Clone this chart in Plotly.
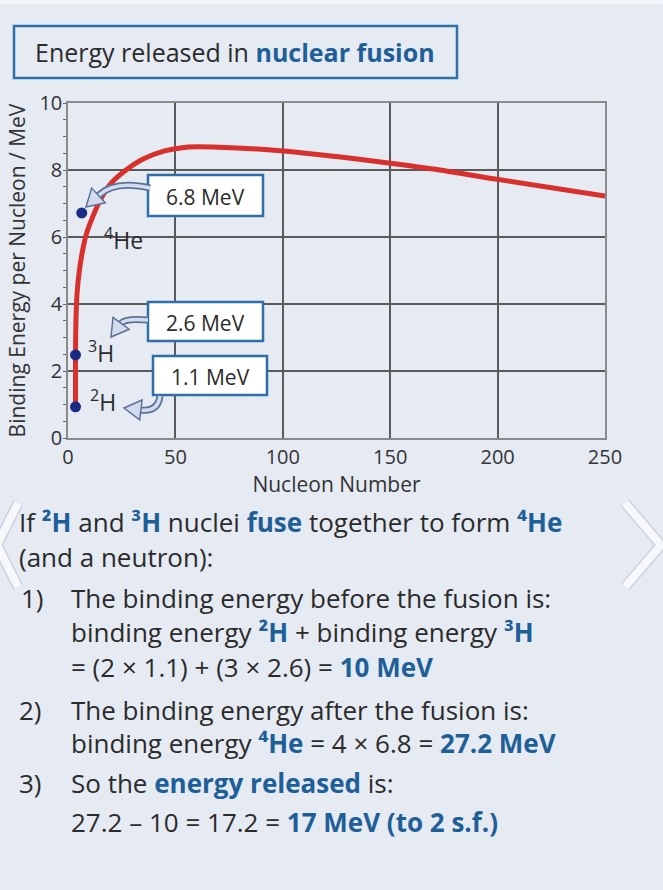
import plotly.graph_objects as go

# ---------------- data ----------------
nucleon_number = [3.5, 3.5, 3.7, 4.2, 5.3, 6.8, 8.6, 11.5, 15, 20, 27, 35, 45, 55, 70, 100, 125, 150, 173, 200, 250]
binding_energy = [0.93, 2.48, 3.5, 4.3, 5.0, 5.6, 6.1, 6.6, 7.1, 7.6, 8.0, 8.33, 8.57, 8.68, 8.68, 8.57, 8.4, 8.2, 8.0, 7.72, 7.22]

nuclide_A = [3.5, 3.5, 6.4]
nuclide_BE = [0.93, 2.48, 6.72]
nuclide_names = ["<sup>2</sup>H", "<sup>3</sup>H", "<sup>4</sup>He"]
nuclide_values = ["1.1 MeV", "2.6 MeV", "6.8 MeV"]

x_ticks = [0, 50, 100, 150, 200, 250]
y_ticks = [0, 2, 4, 6, 8, 10]

# ---------------- styling ----------------
W, H = 663, 890
L, R, T, B = 68, 605, 103, 438
BG = "#e5eaf3"
BLUE = "#1f5f98"
BOX = "#2f6ea6"
DARK = "#2b2b2b"
FONT = "Open Sans"


def PX(x):
    return (x - L) / (R - L)


def PY(y):
    return (B - y) / (B - T)


fig = go.Figure()

fig.add_trace(go.Scatter(
    x=nucleon_number, y=binding_energy, mode="lines",
    line=dict(color="#d8302c", width=5, shape="spline", smoothing=0.8),
    hoverinfo="skip", showlegend=False))

fig.add_trace(go.Scatter(
    x=nuclide_A, y=nuclide_BE, mode="markers",
    marker=dict(color="#1b2a85", size=11),
    hoverinfo="skip", showlegend=False))

shapes = []
annotations = []

# top light strip
shapes.append(dict(type="rect", xref="paper", yref="paper",
                   x0=PX(0), x1=PX(W), y0=PY(0), y1=PY(4),
                   fillcolor="#f3f5f9", line=dict(width=0), layer="below"))

# title box
shapes.append(dict(type="rect", xref="paper", yref="paper",
                   x0=PX(14), x1=PX(457), y0=PY(78), y1=PY(26),
                   line=dict(color=BOX, width=2.5), fillcolor="rgba(0,0,0,0)"))
annotations.append(dict(xref="paper", yref="paper", x=PX(235), y=PY(52),
                        xanchor="center", yanchor="middle", showarrow=False,
                        text=f"Energy released in <b><span style='color:{BLUE}'>nuclear fusion</span></b>",
                        font=dict(family=FONT, size=25, color=DARK)))

# callout boxes
boxes = [(153, 267, 356, 395), (148, 263, 302, 341), (148, 263, 175, 216)]
for (x0, x1, y0, y1), lab in zip(boxes, nuclide_values):
    shapes.append(dict(type="rect", xref="paper", yref="paper",
                       x0=PX(x0), x1=PX(x1), y0=PY(y1), y1=PY(y0),
                       fillcolor="white", line=dict(color=BOX, width=2.5), layer="above"))
    annotations.append(dict(xref="paper", yref="paper", x=PX((x0 + x1) / 2), y=PY((y0 + y1) / 2 + 1),
                            xanchor="center", yanchor="middle", showarrow=False,
                            text=lab, font=dict(family=FONT, size=21, color=DARK)))

# curved arrows (tail, control, tip) in pixels
arrows = [((160, 396), (158, 412), (124, 408)),
          ((148, 320), (125, 318), (111, 337)),
          ((150, 188), (115, 180), (86, 207))]
for (tx, ty), (cx, cy), (px_, py_) in arrows:
    dx, dy = px_ - cx, py_ - cy
    n = (dx * dx + dy * dy) ** 0.5
    ux, uy = dx / n, dy / n
    hl, hw = 17, 10
    bx, by = px_ - ux * hl, py_ - uy * hl
    nx, ny = -uy, ux
    path = f"M {PX(tx)} {PY(ty)} Q {PX(cx)} {PY(cy)} {PX(bx)} {PY(by)}"
    shapes.append(dict(type="path", xref="paper", yref="paper", path=path,
                       line=dict(color="#5d7298", width=7), layer="above"))
    shapes.append(dict(type="path", xref="paper", yref="paper", path=path,
                       line=dict(color="#d3dcee", width=3.5), layer="above"))
    head = (f"M {PX(px_)} {PY(py_)} L {PX(bx + nx * hw)} {PY(by + ny * hw)} "
            f"L {PX(bx - nx * hw)} {PY(by - ny * hw)} Z")
    shapes.append(dict(type="path", xref="paper", yref="paper", path=head,
                       fillcolor="#d3dcee", line=dict(color="#5d7298", width=1.5), layer="above"))

# nuclide labels
label_pos = [(88, 401), (86, 352), (102, 239)]
for (lx, ly), name in zip(label_pos, nuclide_names):
    annotations.append(dict(xref="paper", yref="paper", x=PX(lx), y=PY(ly),
                            xanchor="left", yanchor="middle", showarrow=False,
                            text=name, font=dict(family=FONT, size=23, color=DARK)))

# explanation text
def b(t):
    return f"<b><span style='color:{BLUE}'>{t}</span></b>"

lines = [
    (17, 522, f"If {b('²H')} and {b('³H')} nuclei {b('fuse')} together to form {b('⁴He')}"),
    (17, 557, "(and a neutron):"),
    (19, 598, "1)"),
    (69, 598, "The binding energy before the fusion is:"),
    (69, 632, f"binding energy {b('²H')} + binding energy {b('³H')}"),
    (69, 667, f"= (2 × 1.1) + (3 × 2.6) = {b('10 MeV')}"),
    (17, 710, "2)"),
    (69, 710, "The binding energy after the fusion is:"),
    (69, 743, f"binding energy {b('⁴He')} = 4 × 6.8 = {b('27.2 MeV')}"),
    (17, 783, "3)"),
    (69, 783, f"So the {b('energy released')} is:"),
    (69, 822, f"27.2 – 10 = 17.2 = {b('17 MeV (to 2 s.f.)')}"),
]
for lx, ly, t in lines:
    annotations.append(dict(xref="paper", yref="paper", x=PX(lx), y=PY(ly),
                            xanchor="left", yanchor="middle", showarrow=False,
                            text=t, font=dict(family=FONT, size=26, color=DARK)))

# carousel chevrons
for pts in [((18, 503), (-3, 545), (18, 587)), ((625, 503), (661, 545), (625, 587))]:
    path = "M " + " L ".join(f"{PX(x)} {PY(y)}" for x, y in pts)
    shapes.append(dict(type="path", xref="paper", yref="paper", path=path,
                       line=dict(color="#cdd2dd", width=11), layer="above"))
    shapes.append(dict(type="path", xref="paper", yref="paper", path=path,
                       line=dict(color="#f7f8fb", width=8), layer="above"))

fig.update_layout(
    width=W, height=H,
    margin=dict(l=L, r=W - R, t=T, b=H - B, pad=0),
    paper_bgcolor=BG, plot_bgcolor=BG,
    font=dict(family=FONT, color=DARK),
    shapes=shapes, annotations=annotations,
    showlegend=False,
)
fig.update_xaxes(
    range=[0, 250], tickvals=x_ticks, ticktext=[str(v) for v in x_ticks],
    showgrid=True, gridcolor="#5a5a5a", gridwidth=1.5,
    showline=True, linecolor="#8a8a8a", linewidth=1.5, mirror=True,
    zeroline=False, ticks="", tickfont=dict(size=20, color="#333"),
    title=dict(text="Nucleon Number", font=dict(size=21, color="#333"), standoff=8),
)
fig.update_yaxes(
    range=[0, 10], tickvals=y_ticks, ticktext=[str(v) for v in y_ticks],
    showgrid=True, gridcolor="#5a5a5a", gridwidth=1.5,
    showline=True, linecolor="#8a8a8a", linewidth=1.5, mirror=True,
    zeroline=False, ticks="", tickfont=dict(size=20, color="#333"),
    minor=dict(dtick=0.5, ticks="outside", ticklen=3, tickcolor="#666", showgrid=False),
    title=dict(text="Binding Energy per Nucleon / MeV", font=dict(size=21, color="#333"), standoff=8),
)

fig.write_html("out.html", config={"displayModeBar": False},
               post_script="document.body.style.margin='0';document.body.style.background='%s';" % BG)
